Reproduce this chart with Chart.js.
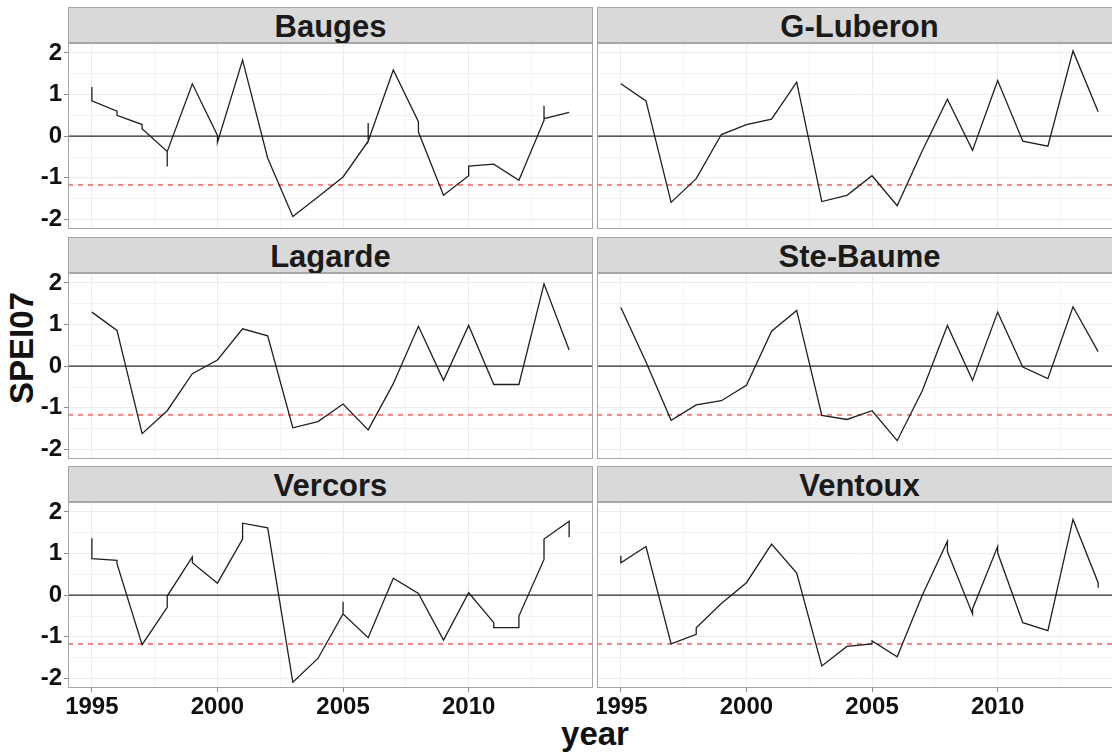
<!DOCTYPE html>
<html>
<head>
<meta charset="utf-8">
<script src="https://cdn.jsdelivr.net/npm/chart.js@4.4.1/dist/chart.umd.min.js"></script>
<style>
html, body { margin: 0; padding: 0; background: #fff; overflow: hidden; }
#fig { position: relative; width: 1112px; height: 754px; overflow: hidden; font-family: "Liberation Sans", Arial, sans-serif; }
.strip { position: absolute; height: 36px; background: #d9d9d9; border: 1px solid #a6a6a6; box-sizing: border-box;
         text-align: center; font-weight: bold; font-size: 31px; line-height: 37px; color: #1a1a1a; white-space: nowrap; }
.panel { position: absolute; }
.panel canvas { display: block; }
#xtitle { position: absolute; left: 535px; width: 120px; top: 715px; text-align: center; font-weight: bold; font-size: 33px; line-height: 38px; color: #111; }
#ytitle { position: absolute; left: -38px; top: 329px; width: 120px; height: 38px; text-align: center; font-weight: bold; font-size: 33px; line-height: 38px; color: #111; transform: rotate(-90deg); }
</style>
</head>
<body>
<div id="fig">
  <div id="xtitle">year</div>
  <div id="ytitle">SPEI07</div>
</div>
<script>
// --- DATA ---
const sites = ["Bauges", "G-Luberon", "Lagarde", "Ste-Baume", "Vercors", "Ventoux"];

const annualYears = [1995, 1996, 1997, 1998, 1999, 2000, 2001, 2002, 2003, 2004,
                     2005, 2006, 2007, 2008, 2009, 2010, 2011, 2012, 2013, 2014];

// some sites have several values in the same year (drawn as short vertical hooks)
const baugesYears = [1995, 1995, 1996, 1996, 1997, 1997, 1998, 1998, 1998, 1999, 2000, 2000, 2001, 2002, 2003, 2004,
                     2005, 2006, 2006, 2006, 2007, 2008, 2008, 2009, 2010, 2010, 2011, 2012, 2013, 2013, 2013, 2014];
const baugesSpei = [1.18, 0.85, 0.6, 0.5, 0.28, 0.18, -0.37, -0.73, -0.37, 1.26, 0.02, -0.15, 1.83, -0.53, -1.93, -1.46,
                    -0.98, -0.12, 0.32, -0.12, 1.59, 0.35, 0.1, -1.42, -0.95, -0.72, -0.67, -1.06, 0.38, 0.73, 0.42, 0.57];

const luberonSpei = [1.26, 0.85, -1.59, -1.02, 0.04, 0.28, 0.41, 1.3, -1.57, -1.42,
                     -0.95, -1.67, -0.35, 0.89, -0.34, 1.34, -0.12, -0.24, 2.05, 0.59];

const lagardeSpei = [1.3, 0.86, -1.62, -1.07, -0.18, 0.15, 0.9, 0.73, -1.48, -1.33,
                     -0.91, -1.53, -0.42, 0.96, -0.34, 0.98, -0.44, -0.44, 1.98, 0.39];

const steBaumeSpei = [1.41, 0.1, -1.3, -0.93, -0.83, -0.46, 0.84, 1.34, -1.18, -1.28,
                      -1.07, -1.79, -0.59, 0.98, -0.34, 1.3, -0.02, -0.3, 1.43, 0.35];

const vercorsYears = [1995, 1995, 1996, 1996, 1997, 1998, 1998, 1999, 1999, 2000, 2001, 2001, 2002, 2003, 2004, 2005,
                      2005, 2005, 2006, 2007, 2008, 2009, 2010, 2011, 2011, 2012, 2012, 2013, 2013, 2014, 2014];
const vercorsSpei = [1.37, 0.88, 0.84, 0.76, -1.19, -0.29, -0.02, 0.92, 0.78, 0.29, 1.35, 1.73, 1.62, -2.09, -1.52, -0.45,
                     -0.16, -0.45, -1.02, 0.41, 0.04, -1.08, 0.06, -0.66, -0.78, -0.78, -0.5, 0.86, 1.35, 1.78, 1.39];

const ventouxYears = [1995, 1995, 1996, 1997, 1998, 1998, 1999, 2000, 2001, 2002, 2003, 2004, 2005, 2005,
                      2006, 2007, 2008, 2008, 2009, 2009, 2010, 2010, 2011, 2012, 2013, 2014, 2014];
const ventouxSpei = [0.95, 0.78, 1.17, -1.17, -0.94, -0.78, -0.2, 0.3, 1.23, 0.53, -1.7, -1.23, -1.17, -1.1,
                     -1.48, 0.0, 1.3, 1.05, -0.45, -0.33, 1.17, 1.02, -0.66, -0.85, 1.82, 0.3, 0.18];

const siteYears = [baugesYears, annualYears, annualYears, annualYears, vercorsYears, ventouxYears];
const siteSpei = [baugesSpei, luberonSpei, lagardeSpei, steBaumeSpei, vercorsSpei, ventouxSpei];

// axes
const xMajor = [1995, 2000, 2005, 2010];
const xMinor = [1997.5, 2002.5, 2007.5, 2012.5];
const yMajor = [-2, -1, 0, 1, 2];
const yMinor = [-1.5, -0.5, 0.5, 1.5];
const xRange = [1994.05, 2014.95];
const yRange = [-2.23, 2.24];
const zeroLevel = 0;
const droughtLevel = -1.17;

// --- LAYOUT ---
const colLeft = [68, 597];
const rowTop = [43, 273, 502];
const plotW = 525, plotH = 186, stripH = 36;
const yAxisW = 68, xAxisH = 44;

const COLORS = {
  line: '#1f1f1f',
  zero: '#2b2b2b',
  drought: 'rgba(238, 90, 90, 0.75)',
  gridMajor: '#ebebeb',
  gridMinor: '#f3f3f3',
  border: '#a6a6a6',
  tick: '#8a8a8a',
  text: '#111'
};
const tickFont = { family: '"Liberation Sans", Arial, sans-serif', size: 24, weight: 'bold' };

const refLines = {
  id: 'refLines',
  beforeDatasetsDraw(chart) {
    const { ctx, chartArea: a, scales } = chart;
    ctx.save();
    ctx.beginPath();
    ctx.rect(a.left, a.top, a.right - a.left, a.bottom - a.top);
    ctx.clip();
    const y0 = scales.y.getPixelForValue(zeroLevel);
    ctx.strokeStyle = COLORS.zero;
    ctx.lineWidth = 1.3;
    ctx.beginPath();
    ctx.moveTo(a.left, y0);
    ctx.lineTo(a.right, y0);
    ctx.stroke();
    const yd = scales.y.getPixelForValue(droughtLevel);
    ctx.strokeStyle = COLORS.drought;
    ctx.lineWidth = 2;
    ctx.setLineDash([5, 5]);
    ctx.beginPath();
    ctx.moveTo(a.left, yd);
    ctx.lineTo(a.right, yd);
    ctx.stroke();
    ctx.restore();
  },
  afterDraw(chart) {
    const { ctx, chartArea: a } = chart;
    ctx.save();
    ctx.strokeStyle = COLORS.border;
    ctx.lineWidth = 1;
    ctx.strokeRect(a.left + 0.5, a.top + 0.5, a.right - a.left - 1, a.bottom - a.top - 1);
    ctx.restore();
  }
};

const fig = document.getElementById('fig');

sites.forEach((name, i) => {
  const col = i % 2, row = Math.floor(i / 2);
  const isLeft = col === 0, isBottom = row === 2;

  const strip = document.createElement('div');
  strip.className = 'strip';
  strip.style.left = colLeft[col] + 'px';
  strip.style.top = (rowTop[row] - stripH) + 'px';
  strip.style.width = plotW + 'px';
  strip.textContent = name;
  fig.appendChild(strip);

  const w = plotW + (isLeft ? yAxisW : 0);
  const h = plotH + (isBottom ? xAxisH : 0);
  const box = document.createElement('div');
  box.className = 'panel';
  box.style.left = (colLeft[col] - (isLeft ? yAxisW : 0)) + 'px';
  box.style.top = rowTop[row] + 'px';
  const canvas = document.createElement('canvas');
  canvas.width = w; canvas.height = h;
  canvas.style.width = w + 'px'; canvas.style.height = h + 'px';
  box.appendChild(canvas);
  fig.appendChild(box);

  const years = siteYears[i], vals = siteSpei[i];

  new Chart(canvas.getContext('2d'), {
    type: 'line',
    data: {
      datasets: [{
        data: years.map((yr, k) => ({ x: yr, y: vals[k] })),
        borderColor: COLORS.line,
        borderWidth: 1.3,
        pointRadius: 0,
        tension: 0,
        fill: false
      }]
    },
    options: {
      responsive: false,
      animation: false,
      devicePixelRatio: 1,
      layout: { padding: 0, autoPadding: false },
      plugins: { legend: { display: false }, tooltip: { enabled: false } },
      scales: {
        x: {
          type: 'linear',
          min: xRange[0], max: xRange[1],
          afterBuildTicks: s => { s.ticks = xMajor.concat(xMinor).sort((a, b) => a - b).map(v => ({ value: v })); },
          afterFit: s => {
            s.height = isBottom ? xAxisH : 0;
            s.paddingLeft = s.paddingRight = s.paddingTop = s.paddingBottom = 0;
          },
          border: { display: false },
          grid: {
            color: c => xMajor.includes(c.tick.value) ? COLORS.gridMajor : COLORS.gridMinor,
            lineWidth: 1,
            drawTicks: isBottom,
            tickLength: 4,
            tickColor: c => xMajor.includes(c.tick.value) ? COLORS.tick : 'rgba(0,0,0,0)'
          },
          ticks: {
            display: isBottom,
            autoSkip: false,
            maxRotation: 0,
            padding: 1,
            color: COLORS.text,
            font: tickFont,
            callback: v => xMajor.includes(v) ? String(v) : ''
          }
        },
        y: {
          type: 'linear',
          min: yRange[0], max: yRange[1],
          afterBuildTicks: s => { s.ticks = yMajor.concat(yMinor).sort((a, b) => a - b).map(v => ({ value: v })); },
          afterFit: s => {
            s.width = isLeft ? yAxisW : 0;
            s.paddingLeft = s.paddingRight = s.paddingTop = s.paddingBottom = 0;
          },
          border: { display: false },
          grid: {
            color: c => yMajor.includes(c.tick.value) ? COLORS.gridMajor : COLORS.gridMinor,
            lineWidth: 1,
            drawTicks: isLeft,
            tickLength: 4,
            tickColor: c => yMajor.includes(c.tick.value) ? COLORS.tick : 'rgba(0,0,0,0)'
          },
          ticks: {
            display: isLeft,
            autoSkip: false,
            padding: 2,
            color: COLORS.text,
            font: tickFont,
            callback: v => yMajor.includes(v) ? String(v) : ''
          }
        }
      }
    },
    plugins: [refLines]
  });
});
</script>
</body>
</html>
